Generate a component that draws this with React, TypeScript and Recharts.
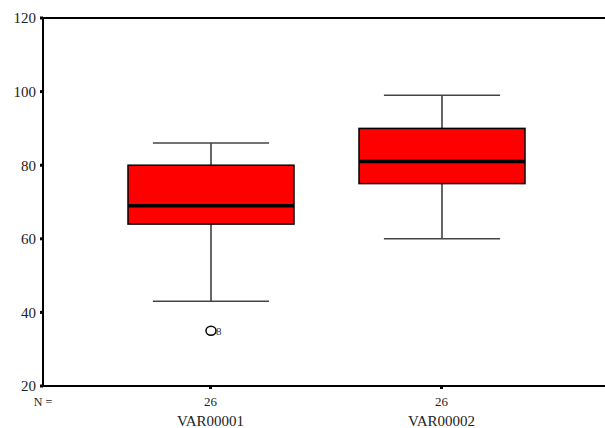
import React from 'react'
import { ComposedChart, Bar, XAxis, YAxis, ReferenceLine } from 'recharts'

const CATEGORIES = ['VAR00001', 'VAR00002']
const COUNTS = [26, 26]
const MINS = [43, 60]
const Q1S = [64, 75]
const MEDIANS = [69, 81]
const Q3S = [80, 90]
const MAXS = [86, 99]
const OUTLIERS: { value: number; label: string }[][] = [[{ value: 35, label: '8' }], []]
const Y_TICKS = [20, 40, 60, 80, 100, 120]

const FONT = '"Liberation Serif", "Times New Roman", serif'

const data = CATEGORIES.map((name, i) => ({
  name,
  n: COUNTS[i],
  range: [MINS[i], MAXS[i]],
  min: MINS[i],
  q1: Q1S[i],
  median: MEDIANS[i],
  q3: Q3S[i],
  max: MAXS[i],
  outliers: OUTLIERS[i],
}))

function BoxShape(props: any) {
  const { x, y, width, height, payload } = props
  const { min, q1, median, q3, max, outliers } = payload
  // map a value to pixels using the bar's own [min, max] geometry
  const toY = (v: number) => y + ((max - v) / (max - min)) * height
  const cx = x + width / 2
  const capHalf = width * 0.35
  return (
    <g>
      <line x1={cx} x2={cx} y1={toY(max)} y2={toY(q3)} stroke="#000" strokeWidth={1.2} />
      <line x1={cx} x2={cx} y1={toY(q1)} y2={toY(min)} stroke="#000" strokeWidth={1.2} />
      <line x1={cx - capHalf} x2={cx + capHalf} y1={toY(max)} y2={toY(max)} stroke="#444" strokeWidth={1.5} />
      <line x1={cx - capHalf} x2={cx + capHalf} y1={toY(min)} y2={toY(min)} stroke="#444" strokeWidth={1.5} />
      <rect
        x={x}
        y={toY(q3)}
        width={width}
        height={toY(q1) - toY(q3)}
        fill="#ff0000"
        stroke="#000"
        strokeWidth={1.5}
      />
      <line x1={x} x2={x + width} y1={toY(median)} y2={toY(median)} stroke="#000" strokeWidth={3.5} />
      {outliers.map((o: { value: number; label: string }) => (
        <g key={o.label}>
          <ellipse cx={cx} cy={toY(o.value)} rx={5} ry={4.5} fill="#fff" stroke="#000" strokeWidth={1.5} />
          <text x={cx + 5} y={toY(o.value) + 4} fontSize={11} fontFamily={FONT} fill="#333">
            {o.label}
          </text>
        </g>
      ))}
    </g>
  )
}

function CategoryTick(props: any) {
  const { x, y, payload, index } = props
  const row = data[index]
  return (
    <g>
      {index === 0 && (
        <text x={43} y={y + 15} textAnchor="middle" fontSize={12} fontFamily={FONT} fill="#222">
          N =
        </text>
      )}
      <text x={x} y={y + 15} textAnchor="middle" fontSize={13} fontFamily={FONT} fill="#222">
        {row ? row.n : ''}
      </text>
      <text x={x} y={y + 35} textAnchor="middle" fontSize={15} fontFamily={FONT} fill="#222">
        {payload.value}
      </text>
    </g>
  )
}

export default function App() {
  return (
    <div style={{ position: 'absolute', left: 0, top: 0, background: '#fff' }}>
      <ComposedChart
        width={605}
        height={428}
        data={data}
        margin={{ top: 18, right: 0, bottom: 0, left: 0 }}
      >
        <XAxis
          dataKey="name"
          height={42}
          padding={{ left: 52, right: 48 }}
          axisLine={{ stroke: '#000', strokeWidth: 2 }}
          tickLine={{ stroke: '#000', strokeWidth: 3 }}
          tickSize={3}
          tick={<CategoryTick />}
          interval={0}
        />
        <YAxis
          width={43}
          domain={[20, 120]}
          ticks={Y_TICKS}
          allowDataOverflow
          axisLine={{ stroke: '#000', strokeWidth: 2 }}
          tickLine={{ stroke: '#000', strokeWidth: 3 }}
          tickSize={3}
          tickMargin={4}
          tick={{ fontSize: 15, fill: '#222', fontFamily: FONT }}
        />
        <ReferenceLine y={120} stroke="#000" strokeWidth={2} />
        <Bar dataKey="range" barSize={166} shape={<BoxShape />} isAnimationActive={false} />
      </ComposedChart>
    </div>
  )
}
